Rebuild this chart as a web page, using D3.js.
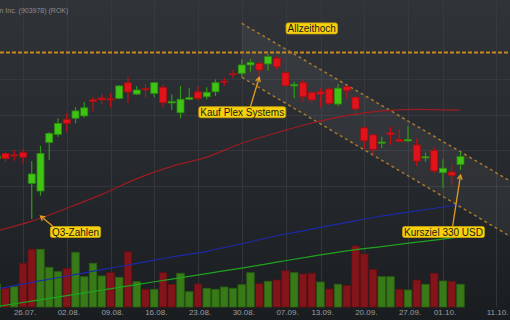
<!DOCTYPE html>
<html><head><meta charset="utf-8">
<script src="https://cdn.jsdelivr.net/npm/d3@7/dist/d3.min.js"></script>
<style>html,body{margin:0;padding:0;background:#1d2024;overflow:hidden}</style>
</head><body>
<svg id="c" width="510" height="320"></svg>
<script>
// ---- DATA ----
const dates = ["21.07.","22.07.","23.07.","26.07.","27.07.","28.07.","29.07.","30.07.",
 "02.08.","03.08.","04.08.","05.08.","06.08.","09.08.","10.08.","11.08.","12.08.","13.08.",
 "16.08.","17.08.","18.08.","19.08.","20.08.","23.08.","24.08.","25.08.","26.08.","27.08.",
 "30.08.","31.08.","01.09.","02.09.","03.09.","07.09.","08.09.","09.09.","10.09.",
 "13.09.","14.09.","15.09.","16.09.","17.09.","20.09.","21.09.","22.09.","23.09.","24.09.",
 "27.09.","28.09.","29.09.","30.09.","01.10.","04.10.","05.10.","06.10.","07.10.","08.10.",
 "11.10.","12.10.","13.10."];
const openP  = [295.2,298.1,297.3,298.5,281.2,276.9,304.3,308.8,317.3,317.9,319.2,328.3,329.3,328.8,329.1,337.9,331.5,334.6,331.9,335.3,326.5,321.0,328.6,332.8,330.0,332.8,338.8,343.1,343.2,347.9,348.8,348.5,351.7,343.5,336.1,337.9,332.3,332.8,334.4,325.9,335.7,329.7,312.4,308.5,303.8,309.7,306.0,305.1,302.8,295.5,299.6,287.2,287.6,291.9];
const highP  = [297.2,299.0,300.0,300.4,293.8,302.3,310.0,317.9,320.7,324.1,327.2,329.7,331.5,331.9,336.6,341.3,336.1,337.2,338.3,336.6,331.4,336.1,334.8,336.1,335.3,339.8,340.7,345.1,351.1,351.1,350.3,354.1,353.1,345.1,338.5,339.4,333.4,334.8,335.3,337.2,336.1,330.4,313.5,309.0,307.5,313.1,311.7,313.5,306.6,298.5,301.3,294.8,291.5,299.0];
const lowP   = [294.9,293.4,294.0,292.5,261.1,274.3,294.4,307.5,310.3,315.0,318.2,321.6,325.7,324.1,328.6,326.6,331.0,329.7,329.7,324.1,322.5,317.9,328.2,328.2,328.6,330.4,336.1,340.4,341.3,344.1,341.9,344.7,345.5,335.7,329.1,327.2,326.6,324.1,325.4,324.8,329.1,320.3,300.4,297.2,301.0,302.8,304.7,304.8,291.0,293.4,287.2,278.4,280.3,288.7];
const closeP = [296.6,295.1,296.9,295.9,286.5,298.1,309.4,315.0,315.0,322.0,323.8,327.4,328.3,328.3,336.1,332.7,333.8,334.1,337.9,326.6,327.3,328.6,329.5,329.1,332.5,337.9,338.2,342.5,347.9,349.4,345.1,352.6,346.9,336.2,337.0,330.0,328.2,331.4,326.3,334.8,333.4,323.1,305.2,300.4,304.5,308.6,304.9,306.0,293.8,296.2,288.2,289.7,285.6,296.3];
// volume in thousand shares, and colour direction of each volume bar
const volume = [575,468,508,1093,1443,1443,993,883,968,1368,758,1093,775,858,743,1383,633,443,443,858,568,843,383,575,468,443,500,468,558,858,583,643,675,908,858,825,843,625,450,568,533,1525,1325,943,758,758,443,425,675,568,843,650,643,568];
const volumeDir = ["up","down","up","down","down","up","up","up","down","up","up","up","up","down","up","down","up","down","up","down","down","up","up","down","up","up","up","up","up","up","down","up","down","down","up","down","down","up","down","up","down","down","down","down","up","up","down","up","down","up","down","up","down","up"];
// moving averages (sampled)
const maDates = ["21.07.","27.07.","02.08.","06.08.","12.08.","18.08.","24.08.","30.08.","03.09.","10.09.","16.09.","22.09.","28.09.","04.10.","05.10."];
const maRed   = [254.4,259.9,267.2,275.0,283.9,290.8,296.0,303.8,309.7,315.2,319.4,322.0,322.9,322.5,322.5];
const maBlue  = [221.7,225.4,229.0,232.6,236.1,239.7,242.9,247.2,251.7,255.4,259.2,262.8,265.7,268.6,269.3];
const maGreen = [211.8,214.9,218.0,221.1,224.2,227.3,230.4,233.5,236.8,240.1,243.2,245.6,248.1,250.5,251.2];
// trend channel
const channelDates = ["30.08.","13.10."];
const channelUpper = [371.4,281.6];
const channelLower = [341.0,250.4];
const allTimeHigh = 355;
const tickLabels = ["26.07.","02.08.","09.08.","16.08.","23.08.","30.08.","07.09.","13.09.","20.09.","27.09.","01.10.","11.10."];
const priceGrid = [280,300,320,340];
const title = "n Inc. (903978) (ROK)";
const annText  = ["Allzeithoch","Kauf Plex Systems","Q3-Zahlen","Kursziel 330 USD"];
const annDate  = ["10.09.","01.09.","28.07.","05.10."];
const annPrice = [355,341.0,262.8,285.9];

// ---- LAYOUT ----
const W = 510, H = 320;
const annLayout = [
  {dx:0,   dy:-24, arrow:false},
  {dx:-17, dy:35,  arrow:true, ax:-9, ay:30},
  {dx:35,  dy:16,  arrow:true, ax:12, ay:10},
  {dx:-17, dy:57,  arrow:true, ax:-8, ay:52}
];

const svg = d3.select("#c");
const defs = svg.append("defs");
const g1 = defs.append("linearGradient").attr("id","bg").attr("x1",0).attr("y1",0).attr("x2",0).attr("y2",1);
g1.append("stop").attr("offset","0%").attr("stop-color","#303439");
g1.append("stop").attr("offset","60%").attr("stop-color","#24272b");
g1.append("stop").attr("offset","100%").attr("stop-color","#1a1d20");
svg.append("rect").attr("width",W).attr("height",H).attr("fill","url(#bg)");

const x = d3.scalePoint().domain(dates).range([-3.25, -3.25 + 8.75*(dates.length-1)]);
const y = d3.scaleLinear().domain([240,360]).range([256.5,43.5]);
const yv = d3.scaleLinear().domain([0,2000]).range([307,227]);

// grid
const grid = svg.append("g").attr("stroke","#393d42").attr("stroke-width",1).attr("opacity",0.75);
grid.selectAll(".vg").data(tickLabels).join("line")
  .attr("x1",d=>Math.round(x(d))+0.5).attr("x2",d=>Math.round(x(d))+0.5)
  .attr("y1",0).attr("y2",307);
grid.selectAll(".hg").data(priceGrid).join("line")
  .attr("x1",0).attr("x2",W).attr("y1",d=>Math.round(y(d))+0.5).attr("y2",d=>Math.round(y(d))+0.5);

// channel
const chPoly = channelDates.map((d,i)=>[x(d), y(channelUpper[i])])
  .concat(channelDates.map((d,i)=>[x(d), y(channelLower[i])]).reverse());
svg.append("path").attr("d", d3.line()(chPoly)).attr("fill","rgba(255,255,255,0.05)");

// ATH line
svg.append("line").attr("x1",0).attr("x2",W).attr("y1",y(allTimeHigh)).attr("y2",y(allTimeHigh))
  .attr("stroke","#c8891f").attr("stroke-width",2).attr("stroke-dasharray","4,2");

// channel lines
[channelUpper, channelLower].forEach(arr=>{
  svg.append("path").attr("d", d3.line()(channelDates.map((d,i)=>[x(d), y(arr[i])])))
    .attr("stroke","#a8782c").attr("stroke-width",1.5).attr("stroke-dasharray","3,3").attr("fill","none");
});

// volume
const idx = d3.range(volume.length);
svg.append("g").selectAll("rect").data(idx).join("rect")
  .attr("x",i=>x(dates[i])-3.75).attr("width",7.5)
  .attr("y",i=>yv(volume[i])).attr("height",i=>yv(0)-yv(volume[i]))
  .attr("fill",i=>volumeDir[i]==="up"?"#377a17":"#83151a")
  .attr("stroke",i=>volumeDir[i]==="up"?"#2a5e12":"#631014").attr("stroke-width",0.8);

// moving averages
const maLine = arr => d3.line().curve(d3.curveMonotoneX).x((d,i)=>x(maDates[i])).y(d=>y(d))(arr);
svg.append("path").attr("d",maLine(maGreen)).attr("stroke","#1fa31f").attr("stroke-width",1.2).attr("fill","none");
svg.append("path").attr("d",maLine(maBlue)).attr("stroke","#1c2aa8").attr("stroke-width",1.2).attr("fill","none");
svg.append("path").attr("d",maLine(maRed)).attr("stroke","#9c1c22").attr("stroke-width",1.2).attr("fill","none");

// candles
const cg = svg.append("g");
const up = i => closeP[i] >= openP[i];
cg.selectAll("line").data(d3.range(openP.length)).join("line")
  .attr("x1",i=>x(dates[i])).attr("x2",i=>x(dates[i]))
  .attr("y1",i=>y(highP[i])).attr("y2",i=>y(lowP[i]))
  .attr("stroke",i=>up(i)?"#2f9a12":"#c01015").attr("stroke-width",1.2);
cg.selectAll("rect").data(d3.range(openP.length)).join("rect")
  .attr("x",i=>x(dates[i])-3.5).attr("width",7)
  .attr("y",i=>y(Math.max(openP[i],closeP[i])))
  .attr("height",i=>Math.max(1.2, Math.abs(y(openP[i])-y(closeP[i]))))
  .attr("fill",i=>up(i)?"#3fc414":"#e2121a")
  .attr("stroke",i=>up(i)?"#2c8a10":"#a80e12").attr("stroke-width",0.8);

// x axis
const ax = svg.append("g").attr("transform","translate(0,307)")
  .call(d3.axisBottom(x).tickValues(tickLabels).tickSize(0).tickPadding(2.5));
ax.select(".domain").remove();
ax.selectAll("text").attr("fill","#9a9da0").attr("font-size",8)
  .attr("font-family","Liberation Sans, Arial, sans-serif").attr("dx",1.5);

// title
svg.append("text").attr("x",-0.5).attr("y",12.5).text(title)
  .attr("fill","#8a8e92").attr("font-size",7).attr("font-family","Liberation Sans, Arial, sans-serif");

// annotations
const ag = svg.append("g");
annText.forEach((t,i)=>{
  const L = annLayout[i];
  const tx = x(annDate[i]), ty = y(annPrice[i]);
  const cx = tx + L.dx, cy = ty + L.dy;
  if (L.arrow) {
    const sx = tx + L.ax, sy = ty + L.ay;
    ag.append("line").attr("x1",sx).attr("y1",sy).attr("x2",tx).attr("y2",ty)
      .attr("stroke","#e39b1f").attr("stroke-width",1.3);
    const ang = Math.atan2(ty-sy, tx-sx);
    const hl = 5, ha = 0.5;
    const p1 = [tx - hl*Math.cos(ang-ha), ty - hl*Math.sin(ang-ha)];
    const p2 = [tx - hl*Math.cos(ang+ha), ty - hl*Math.sin(ang+ha)];
    ag.append("path").attr("d",`M${p1}L${tx},${ty}L${p2}`)
      .attr("stroke","#e39b1f").attr("stroke-width",1.3).attr("fill","none");
  }
  const txt = ag.append("text").attr("x",cx).attr("y",cy+3.6).attr("text-anchor","middle")
    .attr("font-size",10).attr("font-family","Liberation Sans, Arial, sans-serif")
    .attr("fill","#1b1b1b").text(t);
  const w = txt.node().getComputedTextLength() + 3;
  ag.insert("rect","text:last-child").attr("x",cx-w/2).attr("y",cy-5.5).attr("width",w).attr("height",11)
    .attr("rx",2).attr("fill","#f6d10f").attr("stroke","#c9a20a").attr("stroke-width",0.8);
  txt.raise();
});
</script>
</body></html>
